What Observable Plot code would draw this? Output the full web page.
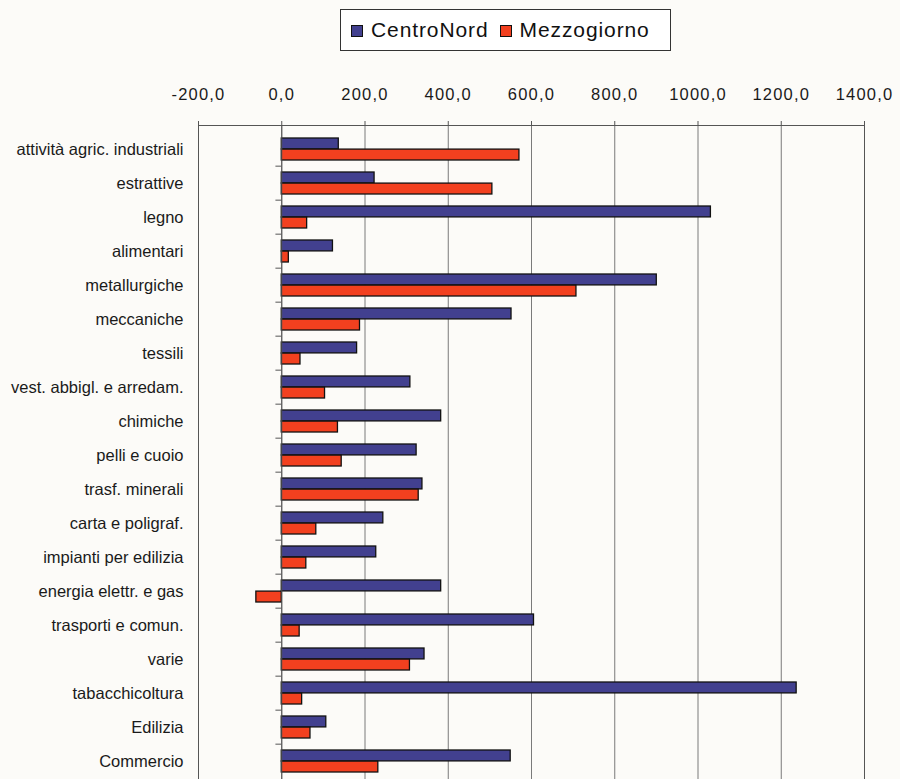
<!DOCTYPE html>
<html>
<head>
<meta charset="utf-8">
<script src="https://cdn.jsdelivr.net/npm/d3@7"></script>
<script src="https://cdn.jsdelivr.net/npm/@observablehq/plot@0.6"></script>
<style>
  html, body { margin: 0; padding: 0; background: #fcfbf8; }
  #wrap { position: relative; width: 900px; height: 779px; overflow: hidden; font-family: "Liberation Sans", Arial, sans-serif; }
  #legend { position: absolute; left: 340px; top: 9px; width: 331px; height: 42px; box-sizing: border-box;
    border: 1px solid #333; background: #fff; display: flex; align-items: center; padding-left: 10px;
    font-size: 21px; color: #111; letter-spacing: 0.9px; }
  #legend .item { display: flex; align-items: center; }
  #legend .item + .item { margin-left: 11px; }
  #legend .sw { width: 12px; height: 12px; border: 1px solid #111; box-sizing: border-box; margin-right: 8px; margin-top: 2px; }
  #chart { position: absolute; left: 0; top: 0; }
  #chart g[aria-label="x-axis tick label"] text { letter-spacing: 1.2px; }
</style>
</head>
<body>
<div id="wrap">
  <div id="chart"></div>
  <div id="legend"></div>
</div>
<script>
const categories = [
  "attività agric. industriali", "estrattive", "legno", "alimentari", "metallurgiche",
  "meccaniche", "tessili", "vest. abbigl. e arredam.", "chimiche", "pelli e cuoio",
  "trasf. minerali", "carta e poligraf.", "impianti per edilizia", "energia elettr. e gas",
  "trasporti e comun.", "varie", "tabacchicoltura", "Edilizia", "Commercio"
];
const centroNord = [137, 223, 1031, 123, 901, 552, 181, 309, 383, 324, 338, 244, 227, 383, 606, 343, 1237, 107, 550];
const mezzogiorno = [571, 506, 61, 17, 708, 188, 45, 104, 135, 144, 329, 83, 59, -61, 43, 308, 49, 69, 232];
const seriesNames = ["CentroNord", "Mezzogiorno"];
const seriesColors = ["#42408f", "#f2401f"];
const xTicks = [-200, 0, 200, 400, 600, 800, 1000, 1200, 1400];

const data = categories.map((c, i) => ({cat: c, cn: centroNord[i], mz: mezzogiorno[i]}));

const height = 779, marginTop = 125, marginBottom = -5;
const step = (height - marginTop - marginBottom) / categories.length;
const paddingInner = 0.36;
const half = step * (1 - paddingInner) / 2;

const fmt = d => d.toFixed(1).replace(".", ",");

const chart = Plot.plot({
  width: 900,
  height,
  marginTop,
  marginBottom,
  marginLeft: 198,
  marginRight: 36,
  style: {background: "transparent", fontFamily: "'Liberation Sans', Arial, sans-serif", color: "#1a1a1a"},
  x: {domain: [-200, 1400], axis: null},
  y: {domain: categories, paddingInner, paddingOuter: paddingInner / 2, axis: null},
  marks: [
    Plot.ruleX(xTicks, {stroke: "#7a7a7a", strokeWidth: 1}),
    Plot.frame({stroke: "#555", strokeWidth: 1}),
    Plot.axisX({anchor: "top", ticks: xTicks, tickFormat: fmt, tickSize: 5, tickPadding: 21, fontSize: 16.5, stroke: "#555", label: null}),
    Plot.axisY({anchor: "left", tickSize: 0, tickPadding: 15, fontSize: 16.5, label: null}),
    Plot.ruleY(categories.slice(1), {y: d => d, x1: -14, x2: 0, dy: -step / 2, stroke: "#555"}),
    Plot.barX(data, {y: "cat", x: "cn", fill: seriesColors[0], stroke: "#111", strokeWidth: 1.3, insetBottom: half}),
    Plot.barX(data, {y: "cat", x: "mz", fill: seriesColors[1], stroke: "#111", strokeWidth: 1.3, insetTop: half}),
    Plot.ruleX([0], {stroke: "#555", strokeWidth: 1})
  ]
});
document.getElementById("chart").appendChild(chart);

const legend = document.getElementById("legend");
seriesNames.forEach((n, i) => {
  const item = document.createElement("div");
  item.className = "item";
  const sw = document.createElement("div");
  sw.className = "sw";
  sw.style.background = seriesColors[i];
  const t = document.createElement("span");
  t.textContent = n;
  item.appendChild(sw);
  item.appendChild(t);
  legend.appendChild(item);
});
</script>
</body>
</html>
